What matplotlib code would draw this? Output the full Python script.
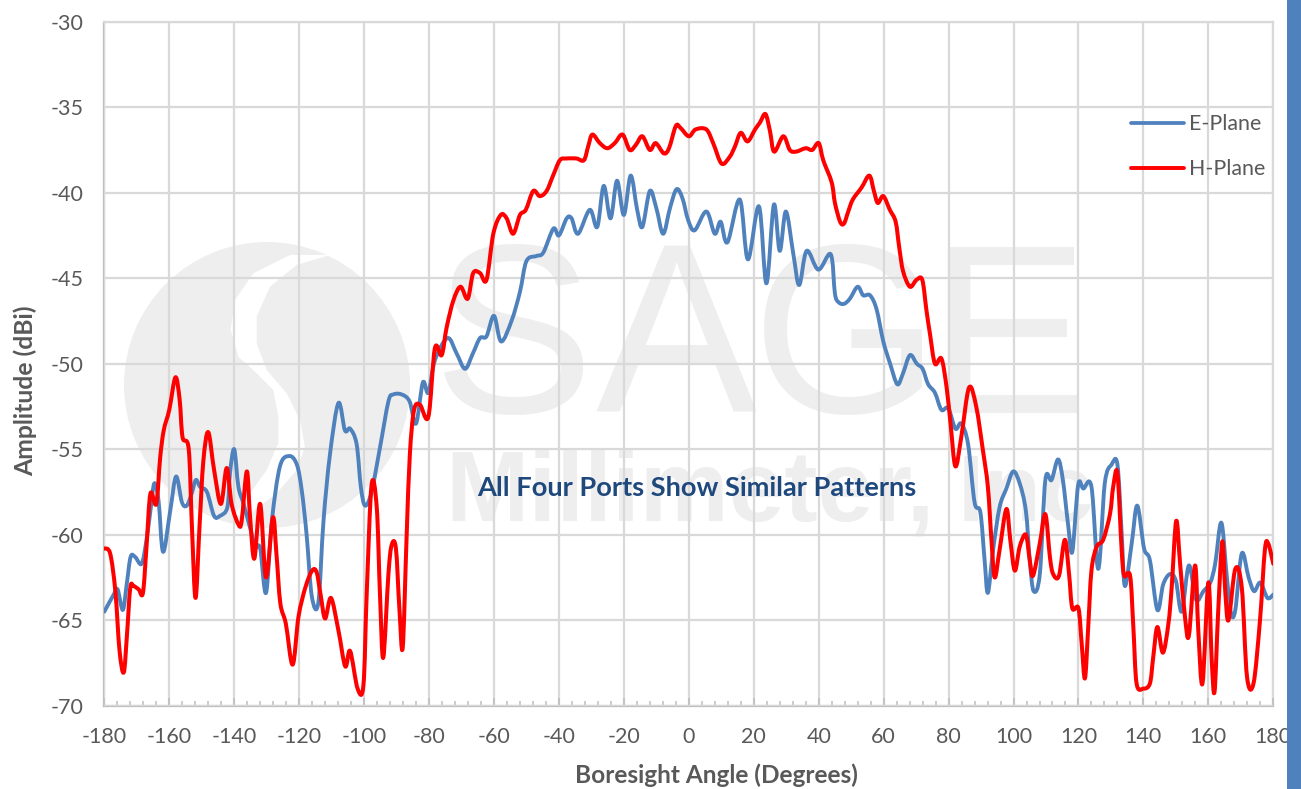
import matplotlib
matplotlib.use('Agg')
import matplotlib.pyplot as plt
from matplotlib.lines import Line2D
from matplotlib.patches import Ellipse, PathPatch, Polygon, Rectangle
from matplotlib.path import Path

W = 1301
H = 789

# values (angle in degrees, amplitude in dBi)
e_angle = [-180, -177.1, -175.9, -174.3, -173.1, -171.9, -170.5, -168.5, -167, -165.8, -164.6, -163.3, -161.9,
           -159.7, -157.9, -156.1, -154.6, -153.1, -151.8, -150.5, -148.4, -146.2, -144.4, -142.1, -141.3, -140,
           -138.7, -137.1, -135.1, -133.5, -132, -130.2, -128.4, -125.9, -123, -120.7, -119.2, -117.7, -116.1,
           -114.1, -112.5, -110.5, -107.9, -105.9, -104.3, -102.3, -101, -99.7, -97.7, -95.1, -92.5, -91, -88.4,
           -86, -84, -81.9, -80.2, -78.2, -74.3, -71.5, -68.9, -66.5, -64.3, -62.3, -60, -57.8, -54.6, -52, -50,
           -46.9, -44.8, -41.7, -40, -37.6, -36.1, -34.1, -30.5, -28.2, -26.2, -24.1, -22.1, -20, -17.9, -15.9,
           -14.3, -12, -10, -7.9, -5.8, -3.8, -2, -0.2, 1.8, 5.4, 8, 9.8, 11.9, 15.7, 18.2, 21.6, 23.9, 26.2, 28,
           29.9, 32.2, 34, 36.3, 39.9, 43.7, 45, 46.1, 47.8, 49.6, 52, 53.7, 55.8, 57.8, 59.9, 62, 64.2, 65.9,
           68.1, 70.2, 72, 73.7, 75.8, 77.8, 79.9, 82.1, 83.9, 86, 88, 89.8, 91.1, 92.1, 93.7, 95.7, 97.8, 99.9,
           101.9, 103.8, 105, 106.2, 108.1, 109.8, 111.7, 113.7, 115.2, 116.8, 118.1, 119.9, 121.5, 124, 126.1,
           128.1, 130.2, 132, 133.3, 134.3, 136.4, 138.1, 140.2, 142, 144.3, 146.1, 148.2, 150, 151.8, 154, 156.2,
           158.5, 160.6, 162.1, 164, 165.7, 167, 168.3, 170.3, 172.4, 174.1, 176, 178.2, 180]
e_plane = [-64.5, -63.5, -63.2, -64.4, -62.9, -61.3, -61.3, -61.7, -60.3, -58.6, -57, -58, -61,
           -58.6, -56.6, -58.1, -58.3, -57.6, -56.8, -57.2, -57.5, -58.9, -58.9, -58.4, -56.4, -55,
           -57.2, -58.2, -59.6, -60.7, -60.8, -63.4, -59.2, -56, -55.4, -55.9, -57.4, -60, -63.6,
           -64, -59.2, -55.3, -52.3, -53.9, -53.8, -54.7, -57.2, -58.3, -57.5, -54.9, -52.2, -51.8, -51.8,
           -52.2, -53.5, -51.1, -51.7, -49.8, -48.5, -49.4, -50.3, -49.4, -48.5, -48.4, -47.2, -48.7, -47.5, -45.8, -44,
           -43.7, -43.5, -42.1, -42.5, -41.5, -41.5, -42.4, -41, -42, -39.6, -41.5, -39.3, -41.3, -39, -41,
           -42, -39.9, -40.9, -42.4, -40.9, -39.8, -40.3, -41.6, -42.2, -41.1, -42.4, -41.7, -42.9, -40.4, -43.9, -40.8, -45.3, -40.7, -43.4,
           -41.1, -43.6, -45.4, -43.4, -44.5, -43.6, -45.9, -46.4, -46.5, -46.2, -45.5, -46, -46, -46.8, -48.7, -50, -51.2, -50.6,
           -49.5, -50, -50.3, -51.2, -51.7, -52.7, -52.6, -53.8, -53.5, -54.7, -58.1, -58.7, -61.5, -63.4, -60.9, -58.4, -57.3, -56.3,
           -57, -58.6, -61.5, -63.3, -62.3, -56.8, -56.8, -55.6, -56.8, -59.4, -61, -57.1, -57.3, -57.2, -62,
           -57, -55.9, -55.9, -59.9, -63, -60.5, -58.3, -60.8, -61.5, -64.4, -62.9, -62.3, -62.7, -64.5, -61.8, -63.8,
           -63.3, -62.8, -61.7, -59.3, -62.5, -64.6, -64.4, -61.1, -62.5, -63.3, -62.8, -63.7, -63.5]

h_angle = [-180, -178.2, -176.6, -175.3, -174, -173, -172, -171, -169.4, -168.1, -167, -165.8, -164, -162.8, -161.7,
           -160, -158.1, -156.8, -155.9, -154, -153, -151.9, -150.7, -149.5, -148, -146.2, -144.1, -142.3, -140.8,
           -138.7, -137.7, -136.1, -135.1, -133.8, -132, -130.2, -128.1, -127, -125.8, -124.1, -122, -120.2, -118.1,
           -116, -114.6, -113.4, -112, -110.2, -107.9, -105.8, -104.3, -102, -100.2, -99.2, -97.7, -96.1, -95.1,
           -94.1, -92.5, -91.5, -90.2, -89.1, -88.1, -86.9, -85.9, -84.6, -82.8, -80.2, -78.2, -76.1, -74.6, -72.5,
           -70.3, -68.1, -66.4, -64.3, -62.3, -60.2, -57.9, -56.1, -54.1, -52, -50.2, -47.9, -45.9, -43.8, -41.8,
           -39.7, -37.7, -34.6, -32.3, -31, -29.7, -27.4, -25.1, -22.8, -20.4, -18.2, -16.3, -14.3, -12, -10.2, -7.7,
           -6.1, -4, -2.6, 0, 2.1, 5.4, 7.5, 10.1, 12.6, 14.2, 16, 18.1, 20.4, 21.9, 23.6, 25, 26.3, 29.1, 31.1, 33,
           36, 38, 40, 41.4, 44, 45, 46.6, 47.8, 49.1, 50.5, 53.2, 55.6, 57, 58.2, 59.9, 61.9, 63.7, 64.8, 66, 68.1,
           70.1, 71.9, 73.2, 74.3, 75.8, 77.8, 79.4, 80.6, 82.1, 83.9, 86.3, 88.5, 90.6, 92.1, 93.2, 94.2, 95.7,
           97.8, 99, 100.4, 101.9, 103.8, 105, 106, 108.1, 109.8, 111.2, 112.2, 114, 115.8, 117.1, 118.1, 120, 121,
           122, 123, 124, 125.6, 127.6, 129.7, 130.7, 132, 133.3, 134.1, 135.9, 136.9, 137.9, 140, 142, 143, 144.3,
           146, 147.7, 148.7, 150.1, 151.3, 152.8, 154, 155.9, 156.9, 158.2, 160, 161, 161.9, 163, 164.3, 165.2,
           166.2, 168.3, 170.3, 171.9, 173.9, 175.9, 177.4, 178.4, 180]
h_plane = [-60.8, -61.1, -63.3, -66.8, -68.05, -65.8, -63.1, -63, -63.2, -63.4, -60.7, -57.6, -58.2, -55.5, -53.9,
           -52.7, -50.8, -52.1, -54.3, -55, -59.6, -63.7, -59.6, -55.7, -54, -56.2, -58.2, -56.1, -58.2,
           -59.4, -59.2, -56.3, -59, -61.4, -58.2, -62.5, -59, -61.1, -64, -65.2, -67.6, -64.8, -63.1,
           -62.1, -62.2, -63.5, -64.9, -63.7, -65.6, -67.7, -66.8, -69, -68.8, -63.5, -57.1, -58.4, -63.5,
           -67.2, -62.3, -60.6, -60.8, -64.4, -66.6, -60.1, -55.3, -52.7, -52.4, -53.1, -49.1, -49.5, -47.9, -46.3,
           -45.5, -46.2, -44.7, -44.7, -45.1, -42.4, -41.3, -41.5, -42.4, -41.3, -41, -39.9, -40.2, -39.9, -39,
           -38.1, -38, -38, -38.1, -37.3, -36.6, -37.1, -37.4, -37.1, -36.6, -37.5, -37.2, -36.7, -37.5, -37.1, -37.7,
           -37.4, -36.1, -36.2, -36.7, -36.3, -36.3, -37.1, -38.3, -37.9, -37.3, -36.5, -37, -36.3, -35.9, -35.4, -36.4, -37.6, -36.7, -37.5, -37.6,
           -37.4, -37.5, -37.1, -38.1, -39.4, -40.6, -41.7, -41.8, -41.1, -40.4, -39.7, -39, -39.9, -40.6, -40.2, -41, -41.7, -43.2, -44.6, -45.5,
           -45.1, -45.1, -46.9, -48.3, -50, -49.7, -51.4, -53.5, -56, -54.3, -51.4, -52.5, -55.1, -57.2, -60.3, -62.5, -60.9,
           -58.5, -60.3, -62.1, -60.7, -60, -61.5, -62.4, -60.5, -58.8, -61.3, -62.3, -62.4, -60.3, -62.3, -64.3, -64.3, -66.4,
           -68.4, -65.4, -62.1, -60.7, -60.3, -58.8, -57.2, -56.4, -60.9, -62.4, -62.4, -65.4, -68.7, -69, -68.7, -67.2, -65.4,
           -66.9, -65.2, -63.1, -59.2, -61.7, -64.8, -65.9, -61.8, -65.6, -68.7, -62.8, -67.2, -69.2, -64.6, -60.4, -63.3,
           -65, -62, -63.1, -68.3, -68.7, -65, -60.9, -60.5, -61.7]

x_ticks = list(range(-180, 181, 20))
x_minor = list(range(-180, 181, 4))
y_ticks = list(range(-70, -29, 5))

plt.rcParams['font.family'] = ['Lato', 'DejaVu Sans']
GREY = '#595959'
WM = '#eeeeee'
BLUE = '#4f81bd'
RED = '#ff0000'


def fx(px):
    return px / W


def fy(py):
    return 1 - py / H


def smooth_path(xs, ys):
    # same kind of smoothed line the spreadsheet draws, bezier through every read point
    n = len(xs)
    verts = [(xs[0], ys[0])]
    for i in range(n - 1):
        a = max(i - 1, 0)
        d = min(i + 2, n - 1)
        verts.append((xs[i] + (xs[i + 1] - xs[a]) / 6, ys[i] + (ys[i + 1] - ys[a]) / 6))
        verts.append((xs[i + 1] - (xs[d] - xs[i]) / 6, ys[i + 1] - (ys[d] - ys[i]) / 6))
        verts.append((xs[i + 1], ys[i + 1]))
    codes = [Path.MOVETO] + [Path.CURVE4] * (3 * (n - 1))
    return Path(verts, codes)


fig = plt.figure(figsize=(W / 100, H / 100), dpi=100)
ax = fig.add_axes([fx(104.3), fy(705.7), (1273.3 - 104.3) / W, (705.7 - 21.7) / H])
ax.set_xlim(-180, 180)
ax.set_ylim(-70, -30)
ax.set_axisbelow(False)

# blue strip at the right edge
fig.add_artist(Rectangle((fx(1287), 0), fx(14), 1, transform=fig.transFigure, color=BLUE, lw=0))

# watermark logo
tf = fig.transFigure
ax.add_patch(Ellipse((fx(267), fy(385)), 286 / W, 286 / H, transform=tf, color=WM, lw=0, zorder=0.1))
band = [(660, 75), (540, 75), (430, 130), (375, 210), (362, 300), (385, 380), (440, 430), (490, 480), (505, 560),
        (505, 640), (470, 720), (420, 790), (370, 860), (420, 850), (500, 790), (560, 720), (585, 650), (570, 570),
        (530, 490), (470, 420), (440, 340), (440, 260), (480, 170), (560, 105)]
ax.add_patch(Polygon([(fx(110 + a / 3), fy(230 + b / 3)) for a, b in band], transform=tf, color='white', lw=0, zorder=0.2))

# watermark text
for ch, cx in zip('SAGE', [513, 676, 846, 1008]):
    ax.text(fx(cx), fy(413), ch, transform=tf, ha='center', va='baseline', fontsize=174, color=WM,
            family='Liberation Sans', zorder=0.3)
ax.text(fx(445), fy(521), 'Millimeter,', transform=tf, ha='left', va='baseline', fontsize=72, color=WM,
        family='Liberation Sans', fontweight='bold', zorder=0.3)
ax.text(fx(958), fy(521), 'Inc', transform=tf, ha='left', va='baseline', fontsize=68, color=WM,
        family='Liberation Sans', fontweight='bold', zorder=0.3)

ax.set_xticks(x_ticks)
ax.set_xticks(x_minor, minor=True)
ax.set_yticks(y_ticks)
ax.grid(True, which='major', color='#d9d9d9', lw=1.6, zorder=1)
ax.tick_params(axis='x', which='major', direction='in', length=6, width=1.2, color='#bfbfbf', pad=15,
               labelsize=15.5, labelcolor=GREY)
ax.tick_params(axis='x', which='minor', direction='in', length=3.5, width=1.1, color='#bfbfbf')
ax.tick_params(axis='y', which='major', length=0, pad=15, labelsize=15.5, labelcolor=GREY)
ax.set_xticklabels([str(t) for t in x_ticks])
ax.set_yticklabels([str(t) for t in y_ticks])
for s in ['top', 'right']:
    ax.spines[s].set_color('#d9d9d9')
    ax.spines[s].set_linewidth(1.6)
for s in ['left', 'bottom']:
    ax.spines[s].set_color('#bfbfbf')
    ax.spines[s].set_linewidth(1.6)

ax.add_patch(PathPatch(smooth_path(e_angle, e_plane), fill=False, edgecolor=BLUE, lw=2.8, capstyle='round',
                       joinstyle='round', zorder=3))
ax.add_patch(PathPatch(smooth_path(h_angle, h_plane), fill=False, edgecolor=RED, lw=2.9, capstyle='round',
                       joinstyle='round', zorder=4))

handles = [Line2D([], [], color=BLUE, lw=2.7, solid_capstyle='round'),
           Line2D([], [], color=RED, lw=2.8, solid_capstyle='round')]
ax.legend(handles, ['E-Plane', 'H-Plane'], loc='upper left', bbox_to_anchor=(fx(1131), fy(114)), bbox_transform=tf,
          frameon=False, fontsize=15.4, labelcolor=GREY, handlelength=2.48, handletextpad=0.23, labelspacing=1.17,
          borderpad=0, borderaxespad=0)

fig.text(fx(716), fy(775), 'Boresight Angle (Degrees)', ha='center', va='center', fontsize=17.6, fontweight='bold', color=GREY)
fig.text(fx(25), fy(391), 'Amplitude (dBi)', ha='center', va='center', rotation=90, fontsize=17.8, fontweight='bold', color=GREY)
fig.text(fx(697), fy(488), 'All Four Ports Show Similar Patterns', ha='center', va='center', fontsize=19.6,
         fontweight='bold', color='#1f497d', zorder=5)

fig.savefig('out.png', dpi=100)
